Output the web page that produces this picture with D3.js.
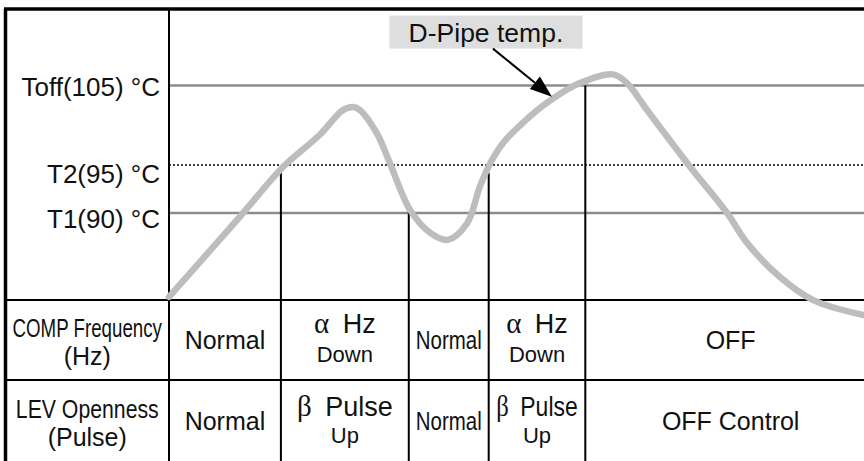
<!DOCTYPE html>
<html>
<head>
<meta charset="utf-8">
<script src="https://cdn.jsdelivr.net/npm/d3@7"></script>
<style>
  body { margin: 0; background: #fff; }
  svg { display: block; font-family: "Liberation Sans", Arial, Helvetica, sans-serif; }
</style>
</head>
<body>
<div id="chart"></div>
<script>
// D-pipe temperature trace (time in arbitrary units 0..100, temperature in °C)
const timeSteps = [0, 10.2, 16.4, 21.7, 25.0, 26.5, 27.5, 29.9, 31.8, 34.7, 37.6, 40.1,
  42.9, 44.7, 46.2, 48.1, 50.9, 54.5, 59.1, 63.9, 65.9, 68.8, 75.0, 80.3, 83.2, 87.9, 92.7, 100];
const pipeTemps = [74.4, 89.3, 94.8, 98.8, 101.9, 102.3, 101.9, 99.0, 95.2, 90.3, 86.3, 85.0,
  88.1, 92.7, 95.2, 97.8, 100.3, 102.9, 105.3, 106.4, 105.3, 101.9, 94.8, 90.0, 84.4, 78.1, 73.8, 71.0];

const thresholdNames = ["Toff", "T2", "T1"];
const thresholdValues = [105, 95, 90];
const thresholdLabels = ["Toff(105) °C", "T2(95) °C", "T1(90) °C"];

// phase boundaries on the time axis and the temperature where each divider starts
const phaseBounds = [0, 16.1, 34.5, 46.0, 59.9, 100];
const dividerTemps = [94.2, 90.3, 94.2, 105];

const rowLabels = [["COMP Frequency", "(Hz)"], ["LEV Openness", "(Pulse)"]];
const compFrequency = [
  { text: "Normal" },
  { greek: "α", text: "Hz", sub: "Down" },
  { text: "Normal" },
  { greek: "α", text: "Hz", sub: "Down" },
  { text: "OFF" },
];
const levOpenness = [
  { text: "Normal" },
  { greek: "β", text: "Pulse", sub: "Up" },
  { text: "Normal" },
  { greek: "β", text: "Pulse", sub: "Up" },
  { text: "OFF Control" },
];

const annotation = { label: "D-Pipe temp.", time: 55.1, temp: 103.6 };

class PipeTempChart {
  constructor(mountPoint) {
    this.width = 864;
    this.height = 461;
    this.frame = { left: 5.5, top: 9 };
    this.labelRight = 169;
    this.chartBottom = 300;
    this.rowBottom = 380;
    this.tableRight = this.width + 12;

    this.svg = d3
      .select(`#${mountPoint}`)
      .append("svg")
      .attr("width", this.width)
      .attr("height", this.height);

    this.xScale = d3.scaleLinear().domain([0, 100]).range([this.labelRight, this.width]);
    this.yScale = d3
      .scaleLinear()
      .domain([74, 90, 95, 105, 115])
      .range([299, 213, 165, 85.5, 6]);

    this.render();
  }

  render() {
    this.drawThresholds();
    this.drawTable();
    this.drawDividers();
    this.drawFrame();
    this.drawCurve();
    this.drawAnnotation();
  }

  drawThresholds() {
    const g = this.svg.append("g").attr("id", "thresholds");
    const nudge = { Toff: 10.5, T2: 18, T1: 15 };

    g.selectAll("line")
      .data(thresholdValues)
      .join("line")
      .attr("x1", this.labelRight)
      .attr("x2", this.width)
      .attr("y1", (d) => this.yScale(d))
      .attr("y2", (d) => this.yScale(d))
      .attr("stroke", (d, i) => (thresholdNames[i] == "T2" ? "#000" : "#8c8c8c"))
      .attr("stroke-width", (d, i) => (thresholdNames[i] == "T2" ? 1.3 : 2.6))
      .attr("stroke-dasharray", (d, i) => (thresholdNames[i] == "T2" ? "2,2" : null));

    g.selectAll("text")
      .data(thresholdValues)
      .join("text")
      .attr("x", this.labelRight - 9)
      .attr("y", (d, i) => this.yScale(d) + nudge[thresholdNames[i]])
      .attr("text-anchor", "end")
      .attr("font-size", 26)
      .attr("fill", "#111")
      .text((d, i) => thresholdLabels[i]);
  }

  drawTable() {
    const g = this.svg.append("g").attr("id", "table");
    const rows = [
      { top: this.chartBottom, bottom: this.rowBottom, cells: compFrequency },
      { top: this.rowBottom, bottom: this.height, cells: levOpenness },
    ];

    g.selectAll("line.row-line")
      .data([this.chartBottom, this.rowBottom])
      .join("line")
      .classed("row-line", true)
      .attr("x1", this.frame.left)
      .attr("x2", this.width)
      .attr("y1", (d) => d)
      .attr("y2", (d) => d)
      .attr("stroke", "#000")
      .attr("stroke-width", 2);

    rows.forEach((row, r) => {
      const mid = (row.top + row.bottom) / 2;
      const labelCenter = (this.frame.left + this.labelRight) / 2;
      const labelWidth = this.labelRight - this.frame.left;

      rowLabels[r].forEach((line, k) => {
        const t = g
          .append("text")
          .attr("text-anchor", "middle")
          .attr("font-size", 25)
          .attr("fill", "#111")
          .text(line);
        this.place(t, labelCenter, mid + (k == 0 ? -3 : 25), labelWidth);
      });

      row.cells.forEach((cell, c) => {
        const x0 = this.xScale(phaseBounds[c]);
        const x1 = c == row.cells.length - 1 ? this.tableRight : this.xScale(phaseBounds[c + 1]);
        const cx = (x0 + x1) / 2;
        const t = g.append("text").attr("text-anchor", "middle").attr("fill", "#111");

        if (cell.greek) {
          t.attr("font-size", 27);
          t.append("tspan")
            .attr("font-family", "'Liberation Serif', 'DejaVu Serif', serif")
            .attr("font-size", 29)
            .text(cell.greek);
          t.append("tspan").attr("dx", 6).text(" " + cell.text);
          this.place(t, cx, mid - (r == 0 ? 7 : 5), x1 - x0);

          const s = g
            .append("text")
            .attr("text-anchor", "middle")
            .attr("font-size", 22)
            .attr("fill", "#111")
            .text(cell.sub);
          this.place(s, cx, mid + 22, x1 - x0);
        } else {
          t.attr("font-size", 25).text(cell.text);
          this.place(t, cx, mid + 9, x1 - x0);
        }
      });
    });
  }

  // narrow cells use a condensed face in the original, so squeeze text that would not fit
  place(textSel, cx, y, cellWidth) {
    const natural = textSel.node().getComputedTextLength();
    let k = 1;
    if (natural > cellWidth - 12) {
      k = Math.min(natural * 0.85, cellWidth - 14) / natural;
    }
    textSel.attr("transform", `translate(${cx},${y}) scale(${k},1)`);
  }

  drawDividers() {
    this.svg
      .append("g")
      .attr("id", "dividers")
      .selectAll("line")
      .data(phaseBounds.slice(1, -1))
      .join("line")
      .attr("x1", (d) => this.xScale(d))
      .attr("x2", (d) => this.xScale(d))
      .attr("y1", (d, i) => this.yScale(dividerTemps[i]))
      .attr("y2", this.height)
      .attr("stroke", "#000")
      .attr("stroke-width", 2);
  }

  drawFrame() {
    const g = this.svg.append("g").attr("id", "frame");
    g.append("line")
      .attr("x1", this.frame.left - 1.5)
      .attr("x2", this.width)
      .attr("y1", this.frame.top)
      .attr("y2", this.frame.top)
      .attr("stroke", "#000")
      .attr("stroke-width", 3.5);
    g.append("line")
      .attr("x1", this.frame.left)
      .attr("x2", this.frame.left)
      .attr("y1", this.frame.top)
      .attr("y2", this.height)
      .attr("stroke", "#000")
      .attr("stroke-width", 3.5);
    g.append("line")
      .attr("x1", this.labelRight)
      .attr("x2", this.labelRight)
      .attr("y1", this.frame.top)
      .attr("y2", this.height)
      .attr("stroke", "#000")
      .attr("stroke-width", 2);
  }

  drawCurve() {
    const line = d3
      .line()
      .x((d, i) => this.xScale(timeSteps[i]))
      .y((d) => this.yScale(d))
      .curve(d3.curveCatmullRom.alpha(0.5));

    this.svg
      .append("path")
      .attr("id", "pipe-temp")
      .attr("d", line(pipeTemps))
      .attr("fill", "none")
      .attr("stroke", "#bdbdbd")
      .attr("stroke-width", 6.5)
      .attr("stroke-linecap", "round")
      .attr("stroke-linejoin", "round");
  }

  drawAnnotation() {
    const g = this.svg.append("g").attr("id", "annotation");
    const tip = { x: this.xScale(annotation.time), y: this.yScale(annotation.temp) };
    const start = { x: tip.x - 59, y: tip.y - 48 };
    const boxW = 193;
    const boxH = 33;
    const boxCx = tip.x - 66;

    g.append("rect")
      .attr("x", boxCx - boxW / 2)
      .attr("y", start.y - boxH)
      .attr("width", boxW)
      .attr("height", boxH)
      .attr("fill", "#dedede");

    g.append("text")
      .attr("x", boxCx)
      .attr("y", start.y - 7)
      .attr("text-anchor", "middle")
      .attr("font-size", 26.5)
      .attr("fill", "#111")
      .text(annotation.label);

    const ang = Math.atan2(tip.y - start.y, tip.x - start.x);
    const headLen = 22;
    const headHalf = 8;
    const base = { x: tip.x - headLen * Math.cos(ang), y: tip.y - headLen * Math.sin(ang) };

    g.append("line")
      .attr("x1", start.x)
      .attr("y1", start.y)
      .attr("x2", base.x)
      .attr("y2", base.y)
      .attr("stroke", "#000")
      .attr("stroke-width", 2);

    const head = [
      [tip.x, tip.y],
      [base.x + headHalf * Math.sin(ang), base.y - headHalf * Math.cos(ang)],
      [base.x - headHalf * Math.sin(ang), base.y + headHalf * Math.cos(ang)],
    ];
    g.append("path").attr("d", d3.line()(head) + "Z").attr("fill", "#000");
  }
}

new PipeTempChart("chart");
</script>
</body>
</html>
